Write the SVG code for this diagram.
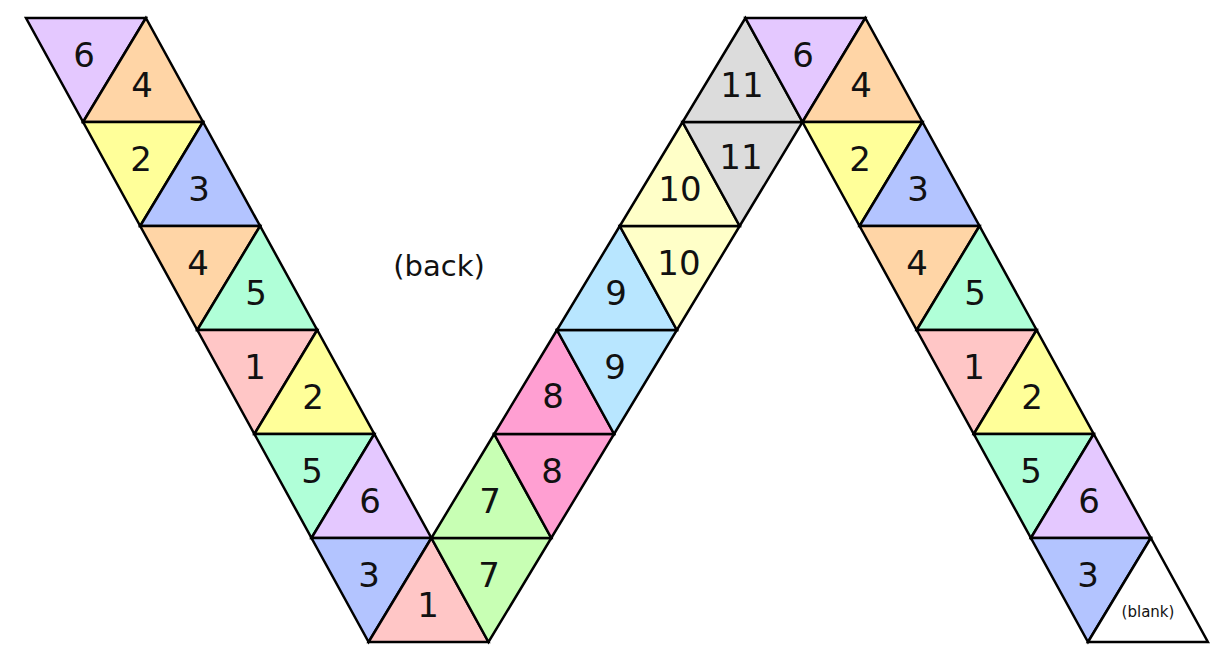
<svg xmlns="http://www.w3.org/2000/svg" width="1232" height="660" viewBox="0 0 1232 660">
<style>
polygon{stroke:#000;stroke-width:2.5;stroke-linejoin:miter}
text{font-family:"DejaVu Sans","Liberation Sans",sans-serif;fill:#111;text-anchor:middle}
.n{font-size:34px}
.c6{fill:#e4c8ff}.c4{fill:#ffd5a6}.c2{fill:#ffff99}.c3{fill:#b3c4ff}.c5{fill:#b0ffd8}.c1{fill:#ffc6c6}
.c7{fill:#c8ffb4}.c8{fill:#ff9fd2}.c9{fill:#b8e6ff}.c10{fill:#ffffc8}.c11{fill:#dcdcdc}.cb{fill:#fff}
</style>
<rect width="1232" height="660" fill="#fff"/>
<g id="left-strip">
<g id="L0d"><polygon class="c6" points="26,18 145.9,18 83.1,122"/><text class="n" x="84" y="67">6</text></g>
<g id="L0u"><polygon class="c4" points="145.9,18 83.1,122 203,122"/><text class="n" x="142" y="97">4</text></g>
<g id="L1d"><polygon class="c2" points="83.1,122 203,122 140.2,226"/><text class="n" x="141" y="171">2</text></g>
<g id="L1u"><polygon class="c3" points="203,122 140.2,226 260.1,226"/><text class="n" x="199" y="201">3</text></g>
<g id="L2d"><polygon class="c4" points="140.2,226 260.1,226 197.3,330"/><text class="n" x="198" y="275">4</text></g>
<g id="L2u"><polygon class="c5" points="260.1,226 197.3,330 317.2,330"/><text class="n" x="256" y="305">5</text></g>
<g id="L3d"><polygon class="c1" points="197.3,330 317.2,330 254.4,434"/><text class="n" x="255" y="379">1</text></g>
<g id="L3u"><polygon class="c2" points="317.2,330 254.4,434 374.3,434"/><text class="n" x="313" y="409">2</text></g>
<g id="L4d"><polygon class="c5" points="254.4,434 374.3,434 311.5,538"/><text class="n" x="312" y="483">5</text></g>
<g id="L4u"><polygon class="c6" points="374.3,434 311.5,538 431.4,538"/><text class="n" x="370" y="513">6</text></g>
<g id="L5d"><polygon class="c3" points="311.5,538 431.4,538 368.6,642"/><text class="n" x="369" y="587">3</text></g>
<g id="L5u"><polygon class="c1" points="431.4,538 368.6,642 488.5,642"/><text class="n" x="428" y="617">1</text></g>
</g>
<g id="middle-strip">
<g id="M5d"><polygon class="c7" points="431.4,538 551.3,538 488.5,642"/><text class="n" x="489" y="587">7</text></g>
<g id="M4u"><polygon class="c7" points="494.2,434 431.4,538 551.3,538"/><text class="n" x="490" y="513">7</text></g>
<g id="M4d"><polygon class="c8" points="494.2,434 614.1,434 551.3,538"/><text class="n" x="552" y="483">8</text></g>
<g id="M3u"><polygon class="c8" points="557,330 494.2,434 614.1,434"/><text class="n" x="553" y="408">8</text></g>
<g id="M3d"><polygon class="c9" points="557,330 676.9,330 614.1,434"/><text class="n" x="615" y="379">9</text></g>
<g id="M2u"><polygon class="c9" points="619.8,226 557,330 676.9,330"/><text class="n" x="616" y="305">9</text></g>
<g id="M2d"><polygon class="c10" points="619.8,226 739.7,226 676.9,330"/><text class="n" x="679" y="275">10</text></g>
<g id="M1u"><polygon class="c10" points="682.6,122 619.8,226 739.7,226"/><text class="n" x="680" y="201">10</text></g>
<g id="M1d"><polygon class="c11" points="682.6,122 802.5,122 739.7,226"/><text class="n" x="741" y="169">11</text></g>
<g id="M0u"><polygon class="c11" points="745.4,18 682.6,122 802.5,122"/><text class="n" x="742" y="97">11</text></g>
</g>
<g id="right-strip">
<g id="R0d"><polygon class="c6" points="745.4,18 865.3,18 802.5,122"/><text class="n" x="803" y="67">6</text></g>
<g id="R0u"><polygon class="c4" points="865.3,18 802.5,122 922.4,122"/><text class="n" x="861" y="97">4</text></g>
<g id="R1d"><polygon class="c2" points="802.5,122 922.4,122 859.6,226"/><text class="n" x="860" y="171">2</text></g>
<g id="R1u"><polygon class="c3" points="922.4,122 859.6,226 979.5,226"/><text class="n" x="918" y="201">3</text></g>
<g id="R2d"><polygon class="c4" points="859.6,226 979.5,226 916.7,330"/><text class="n" x="917" y="275">4</text></g>
<g id="R2u"><polygon class="c5" points="979.5,226 916.7,330 1036.6,330"/><text class="n" x="975" y="305">5</text></g>
<g id="R3d"><polygon class="c1" points="916.7,330 1036.6,330 973.8,434"/><text class="n" x="974" y="379">1</text></g>
<g id="R3u"><polygon class="c2" points="1036.6,330 973.8,434 1093.7,434"/><text class="n" x="1032" y="409">2</text></g>
<g id="R4d"><polygon class="c5" points="973.8,434 1093.7,434 1030.9,538"/><text class="n" x="1031" y="483">5</text></g>
<g id="R4u"><polygon class="c6" points="1093.7,434 1030.9,538 1150.8,538"/><text class="n" x="1089" y="513">6</text></g>
<g id="R5d"><polygon class="c3" points="1030.9,538 1150.8,538 1088,642"/><text class="n" x="1088" y="587">3</text></g>
<g id="R5u"><polygon class="cb" points="1150.8,538 1088,642 1207.9,642"/><text x="1148" y="617" font-size="15">(blank)</text></g>
</g>
<g id="connectors"/>
<text x="439" y="276" font-size="29">(back)</text>
</svg>
